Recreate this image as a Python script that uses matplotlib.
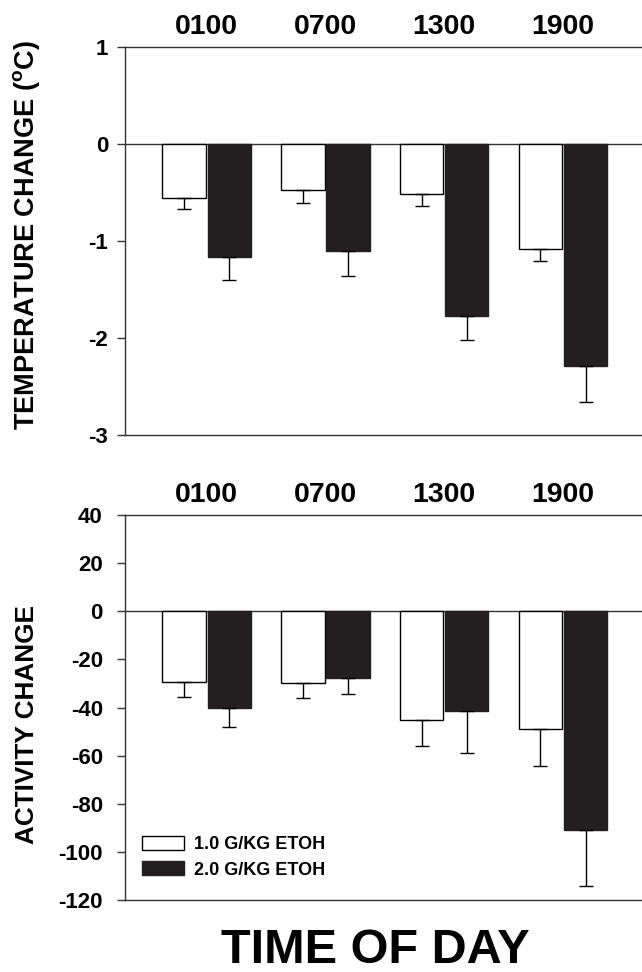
import matplotlib
matplotlib.use("Agg")
import matplotlib.pyplot as plt
import numpy as np

plt.rcParams['font.family'] = ['Liberation Sans', 'DejaVu Sans']
plt.rcParams['font.weight'] = 'bold'
plt.rcParams['mathtext.fontset'] = 'custom'
plt.rcParams['mathtext.rm'] = 'Liberation Sans:bold'
plt.rcParams['mathtext.bf'] = 'Liberation Sans:bold'

times = ["0100", "0700", "1300", "1900"]
series = ["1.0 G/KG ETOH", "2.0 G/KG ETOH"]

temp_low = [-0.56, -0.47, -0.52, -1.08]
temp_low_err = [0.11, 0.14, 0.12, 0.13]
temp_high = [-1.16, -1.10, -1.77, -2.29]
temp_high_err = [0.24, 0.26, 0.25, 0.37]

act_low = [-29.5, -29.8, -45.3, -48.9]
act_low_err = [6.0, 6.2, 10.8, 15.6]
act_high = [-40.0, -27.7, -41.6, -90.8]
act_high_err = [8.0, 6.6, 17.4, 23.5]

temp_ticks = [1, 0, -1, -2, -3]
act_ticks = [40, 20, 0, -20, -40, -60, -80, -100, -120]

W, H = 642, 972
fig = plt.figure(figsize=(W / 100, H / 100), dpi=100)

def ax_rect(left_px, top_px, bottom_px, right_px=W):
    return [left_px / W, 1 - bottom_px / H, (right_px - left_px) / W, (bottom_px - top_px) / H]

ax1 = fig.add_axes(ax_rect(125, 47, 435))
ax2 = fig.add_axes(ax_rect(125, 515, 900))

x = np.arange(len(times))
width = 0.365
off = 0.19
black = '#231f20'
linec = '#333333'

def draw(ax, low, low_err, high, high_err, ylim, ticks, pad):
    ax.axhline(0, color=linec, lw=1.0, zorder=1)
    ax.bar(x - off, low, width, color='white', edgecolor='black', lw=1.0, label=series[0], zorder=2)
    ax.bar(x + off, high, width, color=black, edgecolor=black, lw=1.0, label=series[1], zorder=2)
    for xs, v, e in [(x - off, low, low_err), (x + off, high, high_err)]:
        ax.errorbar(xs, v, yerr=[e, np.zeros(len(e))], fmt='none', ecolor='black',
                    elinewidth=1.0, capsize=5, capthick=1.0, zorder=3)
    ax.set_xlim(-0.688, 3.665)
    ax.set_ylim(*ylim)
    ax.set_yticks(ticks)
    ax.set_yticklabels([str(t) for t in ticks])
    ax.set_xticks(x)
    ax.set_xticklabels(times)
    ax.xaxis.set_ticks_position('top')
    ax.tick_params(axis='x', length=0, pad=5, labelsize=20.5)
    ax.tick_params(axis='y', length=6, width=1.0, color=linec, pad=pad, labelsize=16)
    for lab in ax.get_xticklabels() + ax.get_yticklabels():
        lab.set_fontweight('bold')
    ax.spines['right'].set_visible(False)
    for s in ['left', 'top', 'bottom']:
        ax.spines[s].set_color(linec)
        ax.spines[s].set_linewidth(1.0)

draw(ax1, temp_low, temp_low_err, temp_high, temp_high_err, (-3, 1), temp_ticks, 6)
draw(ax2, act_low, act_low_err, act_high, act_high_err, (-120, 40), act_ticks, 10)

fig.text(27 / W, 1 - 235 / H, r"TEMPERATURE CHANGE ($^{\mathrm{o}}$C)", rotation=90,
         ha='center', va='center', fontsize=19.5, fontweight='bold')
fig.text(27 / W, 1 - 724 / H, "ACTIVITY CHANGE", rotation=90,
         ha='center', va='center', fontsize=18.8, fontweight='bold')
fig.text(375 / W, 1 - 963 / H, "TIME OF DAY", ha='center', va='baseline',
         fontsize=35, fontweight='bold')

leg = ax2.legend(loc='upper left', bbox_to_anchor=(0.033, 0.166), frameon=False,
                 fontsize=13, handlelength=2.3, handleheight=0.8, handletextpad=0.55,
                 labelspacing=0.45, borderaxespad=0, borderpad=0)
for t in leg.get_texts():
    t.set_fontweight('bold')

fig.savefig("out.png", dpi=100)
